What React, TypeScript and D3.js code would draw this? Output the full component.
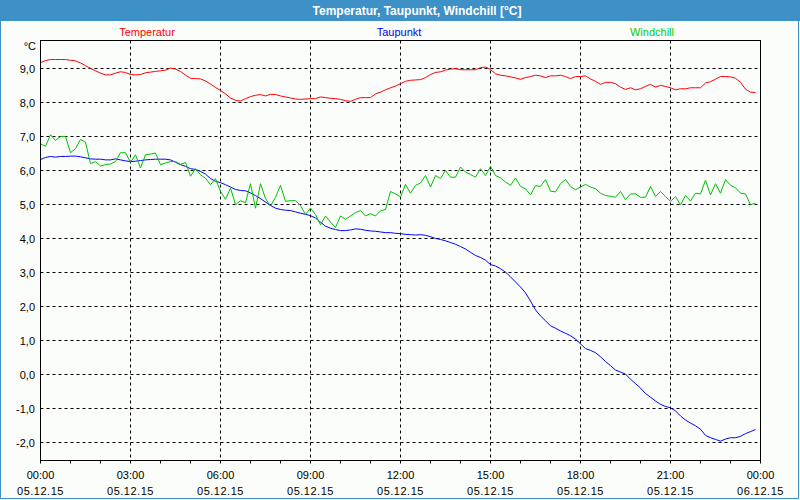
import React from "react";
import * as d3 from "d3";

// 10-minute samples from 05.12.15 00:00 to 23:50
const temperatur: number[] = [
  9.15, 9.21, 9.24, 9.24, 9.24, 9.24, 9.22, 9.2, 9.14, 9.06, 8.98, 8.91, 8.84, 8.79, 8.79, 8.84,
  8.88, 8.86, 8.8, 8.79, 8.8, 8.85, 8.87, 8.89, 8.91, 8.93, 8.99, 8.96, 8.89, 8.78, 8.69, 8.68,
  8.67, 8.61, 8.52, 8.42, 8.33, 8.23, 8.11, 8.04, 8.02, 8.09, 8.15, 8.19, 8.21, 8.17, 8.22, 8.21,
  8.17, 8.14, 8.11, 8.08, 8.07, 8.08, 8.09, 8.09, 8.14, 8.12, 8.1, 8.09, 8.07, 8.03, 8.01, 8.07,
  8.12, 8.12, 8.12, 8.23, 8.28, 8.35, 8.41, 8.46, 8.53, 8.6, 8.63, 8.64, 8.65, 8.71, 8.8, 8.86,
  8.88, 8.93, 8.96, 8.97, 8.94, 8.94, 8.94, 8.94, 9.0, 9.02, 8.95, 8.82, 8.78, 8.76, 8.73, 8.7,
  8.66, 8.71, 8.74, 8.78, 8.76, 8.71, 8.76, 8.76, 8.78, 8.74, 8.68, 8.74, 8.74, 8.76, 8.67, 8.6,
  8.51, 8.57, 8.57, 8.53, 8.43, 8.36, 8.41, 8.35, 8.38, 8.45, 8.51, 8.43, 8.48, 8.45, 8.41, 8.35,
  8.38, 8.38, 8.41, 8.41, 8.41, 8.55, 8.59, 8.66, 8.74, 8.74, 8.73, 8.69, 8.57, 8.37, 8.28, 8.27,
];

const taupunkt: number[] = [
  6.3, 6.36, 6.39, 6.37, 6.39, 6.39, 6.4, 6.4, 6.38, 6.35, 6.32, 6.31, 6.31, 6.29, 6.29, 6.32,
  6.29, 6.26, 6.24, 6.25, 6.27, 6.29, 6.3, 6.31, 6.31, 6.31, 6.29, 6.22, 6.15, 6.1, 6.03, 6.01,
  5.95, 5.87, 5.74, 5.66, 5.62, 5.56, 5.49, 5.42, 5.39, 5.38, 5.32, 5.24, 5.15, 5.05, 4.95, 4.87,
  4.83, 4.81, 4.8, 4.76, 4.72, 4.69, 4.65, 4.58, 4.46, 4.34, 4.28, 4.24, 4.21, 4.21, 4.23, 4.26,
  4.25, 4.22, 4.2, 4.19, 4.17, 4.15, 4.15, 4.13, 4.12, 4.1, 4.09, 4.08, 4.09, 4.07, 4.03, 3.98,
  3.95, 3.91, 3.86, 3.81, 3.74, 3.67, 3.57, 3.48, 3.42, 3.34, 3.21, 3.17, 3.09, 2.99, 2.85, 2.7,
  2.55, 2.38, 2.14, 1.88, 1.7, 1.56, 1.41, 1.34, 1.26, 1.19, 1.12, 1.02, 0.88, 0.74, 0.69, 0.62,
  0.5, 0.36, 0.24, 0.11, 0.05, -0.01, -0.16, -0.29, -0.42, -0.58, -0.69, -0.8, -0.9, -0.96, -1.0, -1.09,
  -1.24, -1.36, -1.45, -1.53, -1.63, -1.81, -1.88, -1.93, -1.98, -1.92, -1.88, -1.88, -1.84, -1.76, -1.7, -1.64,
];

const windchill: number[] = [
  6.76, 6.69, 7.03, 6.86, 6.98, 6.98, 6.5, 6.62, 6.89, 6.81, 6.18, 6.24, 6.11, 6.15, 6.17, 6.24,
  6.5, 6.5, 6.22, 6.44, 6.05, 6.44, 6.46, 6.49, 6.15, 6.2, 6.24, 6.24, 6.16, 6.21, 5.81, 6.03,
  5.85, 5.75, 5.56, 5.74, 5.36, 5.13, 5.46, 4.97, 5.09, 5.03, 5.59, 4.87, 5.59, 5.15, 4.93, 5.19,
  5.54, 5.07, 5.09, 5.09, 4.95, 4.68, 4.87, 4.68, 4.38, 4.64, 4.46, 4.3, 4.64, 4.54, 4.64, 4.74,
  4.8, 4.64, 4.71, 4.64, 4.79, 4.83, 5.36, 5.29, 5.2, 5.57, 5.31, 5.54, 5.61, 5.83, 5.49, 5.83,
  5.74, 5.98, 5.78, 5.78, 6.08, 5.93, 5.86, 5.78, 6.03, 5.83, 6.1, 5.83, 5.76, 5.64, 5.54, 5.76,
  5.51, 5.44, 5.26, 5.53, 5.51, 5.71, 5.37, 5.35, 5.59, 5.71, 5.51, 5.41, 5.49, 5.57, 5.49, 5.44,
  5.31, 5.24, 5.22, 5.19, 5.36, 5.12, 5.29, 5.29, 5.19, 5.19, 5.51, 5.21, 5.36, 5.21, 5.07, 5.21,
  4.97, 5.24, 5.08, 5.31, 5.29, 5.69, 5.26, 5.59, 5.31, 5.71, 5.54, 5.47, 5.31, 5.29, 4.97, 5.02,
];

const sampleMinutes = 10;
const title = "Temperatur, Taupunkt, Windchill [°C]";
const seriesNames = ["Temperatur", "Taupunkt", "Windchill"];
const seriesColors = ["#ff0000", "#0000ff", "#00c000"];
const legendColors = ["#ff0000", "#0000ff", "#00cc00"];
const yTicks = [9, 8, 7, 6, 5, 4, 3, 2, 1, 0, -1, -2];
const xTickHours = [0, 3, 6, 9, 12, 15, 18, 21, 24];
const xTimeLabels = ["00:00", "03:00", "06:00", "09:00", "12:00", "15:00", "18:00", "21:00", "00:00"];
const xDateLabels = ["05.12.15", "05.12.15", "05.12.15", "05.12.15", "05.12.15", "05.12.15", "05.12.15", "05.12.15", "06.12.15"];

const W = 800;
const H = 500;
const L = 40.5;
const R = 760.5;
const T = 40.5;
const B = 460.5;
const FONT = "'Liberation Sans', Arial, sans-serif";

export default function App() {
  const x = d3.scaleLinear().domain([0, 24]).range([L, R]);
  const y = d3.scaleLinear().domain([-2.55, 9.8]).range([B, T]);
  const series = [temperatur, taupunkt, windchill];
  const line = d3
    .line<number>()
    .x((_, i) => x((i * sampleMinutes) / 60))
    .y((v) => y(v));
  const hours = d3.range(0, 25);
  const legendX = [147, 399, 652];
  const fmt = (v: number) => v.toFixed(1).replace(".", ",");

  return (
    <svg
      width={W}
      height={H}
      style={{ position: "absolute", left: 0, top: 0, fontFamily: FONT }}
    >
      <rect x={0} y={0} width={W} height={H} fill="#fbfdfb" />
      <rect x={0} y={0} width={W} height={21} fill="#3d91c6" />
      <path d={`M0.5,21 V498.5 H798.5 V21`} fill="none" stroke="#3d91c6" strokeWidth={1} />
      <text x={417} y={15} textAnchor="middle" fill="#ffffff" fontSize={12} fontWeight="bold">
        {title}
      </text>
      {seriesNames.map((n, i) => (
        <text key={n} x={legendX[i]} y={36} textAnchor="middle" fill={legendColors[i]} fontSize={11}>
          {n}
        </text>
      ))}
      <text x={36} y={50} textAnchor="end" fill="#000" fontSize={11}>
        °C
      </text>
      {/* horizontal grid */}
      {yTicks.map((t) => {
        const yy = Math.round(y(t)) + 0.5;
        return (
          <g key={"y" + t}>
            <line x1={L} x2={R} y1={yy} y2={yy} stroke="#000" strokeDasharray="3,3" strokeWidth={1} />
            <text x={35} y={yy + 4} textAnchor="end" fontSize={11} fill="#000">
              {fmt(t)}
            </text>
          </g>
        );
      })}
      {/* vertical grid */}
      {xTickHours.map((h, i) => {
        const xx = Math.round(x(h) - 0.5) + 0.5;
        return (
          <g key={"x" + i}>
            {i > 0 && i < xTickHours.length - 1 && (
              <line x1={xx} x2={xx} y1={T} y2={B} stroke="#000" strokeDasharray="3,3" strokeWidth={1} />
            )}
            <text x={xx} y={479} textAnchor="middle" fontSize={11} fill="#000">
              {xTimeLabels[i]}
            </text>
            <text x={xx} y={495} textAnchor="middle" fontSize={11} fill="#000" letterSpacing={0.5}>
              {xDateLabels[i]}
            </text>
          </g>
        );
      })}
      {hours.map((h) => {
        const xx = Math.round(x(h) - 0.5) + 0.5;
        return <line key={"t" + h} x1={xx} x2={xx} y1={B} y2={B + 3} stroke="#000" strokeWidth={1} />;
      })}
      {series.map((s, i) => (
        <path key={"s" + i} d={line(s) || ""} fill="none" stroke={seriesColors[i]} strokeWidth={1} />
      ))}
      <rect x={L} y={T} width={R - L} height={B - T} fill="none" stroke="#000" strokeWidth={1} />
    </svg>
  );
}
